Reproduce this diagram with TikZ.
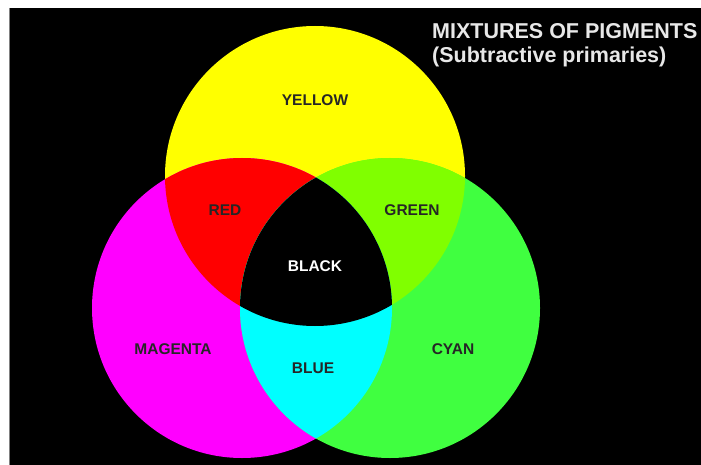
\documentclass[tikz,border=0pt]{standalone}
\usepackage{fontspec}
\setmainfont{Liberation Sans}
\definecolor{pigyellow}{HTML}{FFFF00}
\definecolor{pigmagenta}{HTML}{FF00FF}
\definecolor{pigcyan}{HTML}{40FF40}
\definecolor{mixred}{HTML}{FF0000}
\definecolor{mixgreen}{HTML}{80FF00}
\definecolor{mixblue}{HTML}{00FFFF}
\definecolor{titlegrey}{HTML}{E8E8E8}

\begin{document}
\begin{tikzpicture}[
  x=1pt,
  y=-1pt,
  pigment/.style={draw=none},
  mixlabel/.style={font=\fontsize{15.5}{18}\selectfont\bfseries,text=black!85,inner sep=0pt},
  darklabel/.style={mixlabel,text=white},
  heading/.style={font=\fontsize{21.5}{24}\selectfont\bfseries,text=titlegrey,
    align=left,anchor=north west,inner sep=0pt}
]
  \useasboundingbox (0,0) rectangle (701,465);
  \def\rad{150}

  % Black card with the thin grey left rim.
  \fill[black] (10,8) rectangle (701,465);
  \draw[gray,line width=1] (9.5,8) -- (9.5,465);

  % Centres of the three pigment discs.
  \coordinate (Ycen) at (315,176);
  \coordinate (Mcen) at (242,308);
  \coordinate (Ccen) at (390,308);

  % Single pigments.
  \fill[pigment,pigyellow] (Ycen) circle[radius=\rad];
  \fill[pigment,pigmagenta] (Mcen) circle[radius=\rad];
  \fill[pigment,pigcyan] (Ccen) circle[radius=\rad];

  % Pairwise mixtures.
  \begin{scope}
    \clip (Ycen) circle[radius=\rad];
    \fill[mixred] (Mcen) circle[radius=\rad];
    \fill[mixgreen] (Ccen) circle[radius=\rad];
  \end{scope}
  \begin{scope}
    \clip (Mcen) circle[radius=\rad];
    \fill[mixblue] (Ccen) circle[radius=\rad];
  \end{scope}

  % All three together.
  \begin{scope}
    \clip (Ycen) circle[radius=\rad];
    \clip (Mcen) circle[radius=\rad];
    \fill[black] (Ccen) circle[radius=\rad];
  \end{scope}

  % Labels.
  \node[mixlabel] (yellowlbl) at (315,100) {YELLOW};
  \node[mixlabel] (redlbl) at (225,210) {RED};
  \node[mixlabel] (greenlbl) at (412,210) {GREEN};
  \node[darklabel] (blacklbl) at (315,266) {BLACK};
  \node[mixlabel] (magentalbl) at (173,349) {MAGENTA};
  \node[mixlabel] (bluelbl) at (313,368) {BLUE};
  \node[mixlabel] (cyanlbl) at (453,349) {CYAN};

  \node[heading] (title) at (432,23) {MIXTURES OF PIGMENTS\\(Subtractive primaries)};
\end{tikzpicture}
\end{document}
